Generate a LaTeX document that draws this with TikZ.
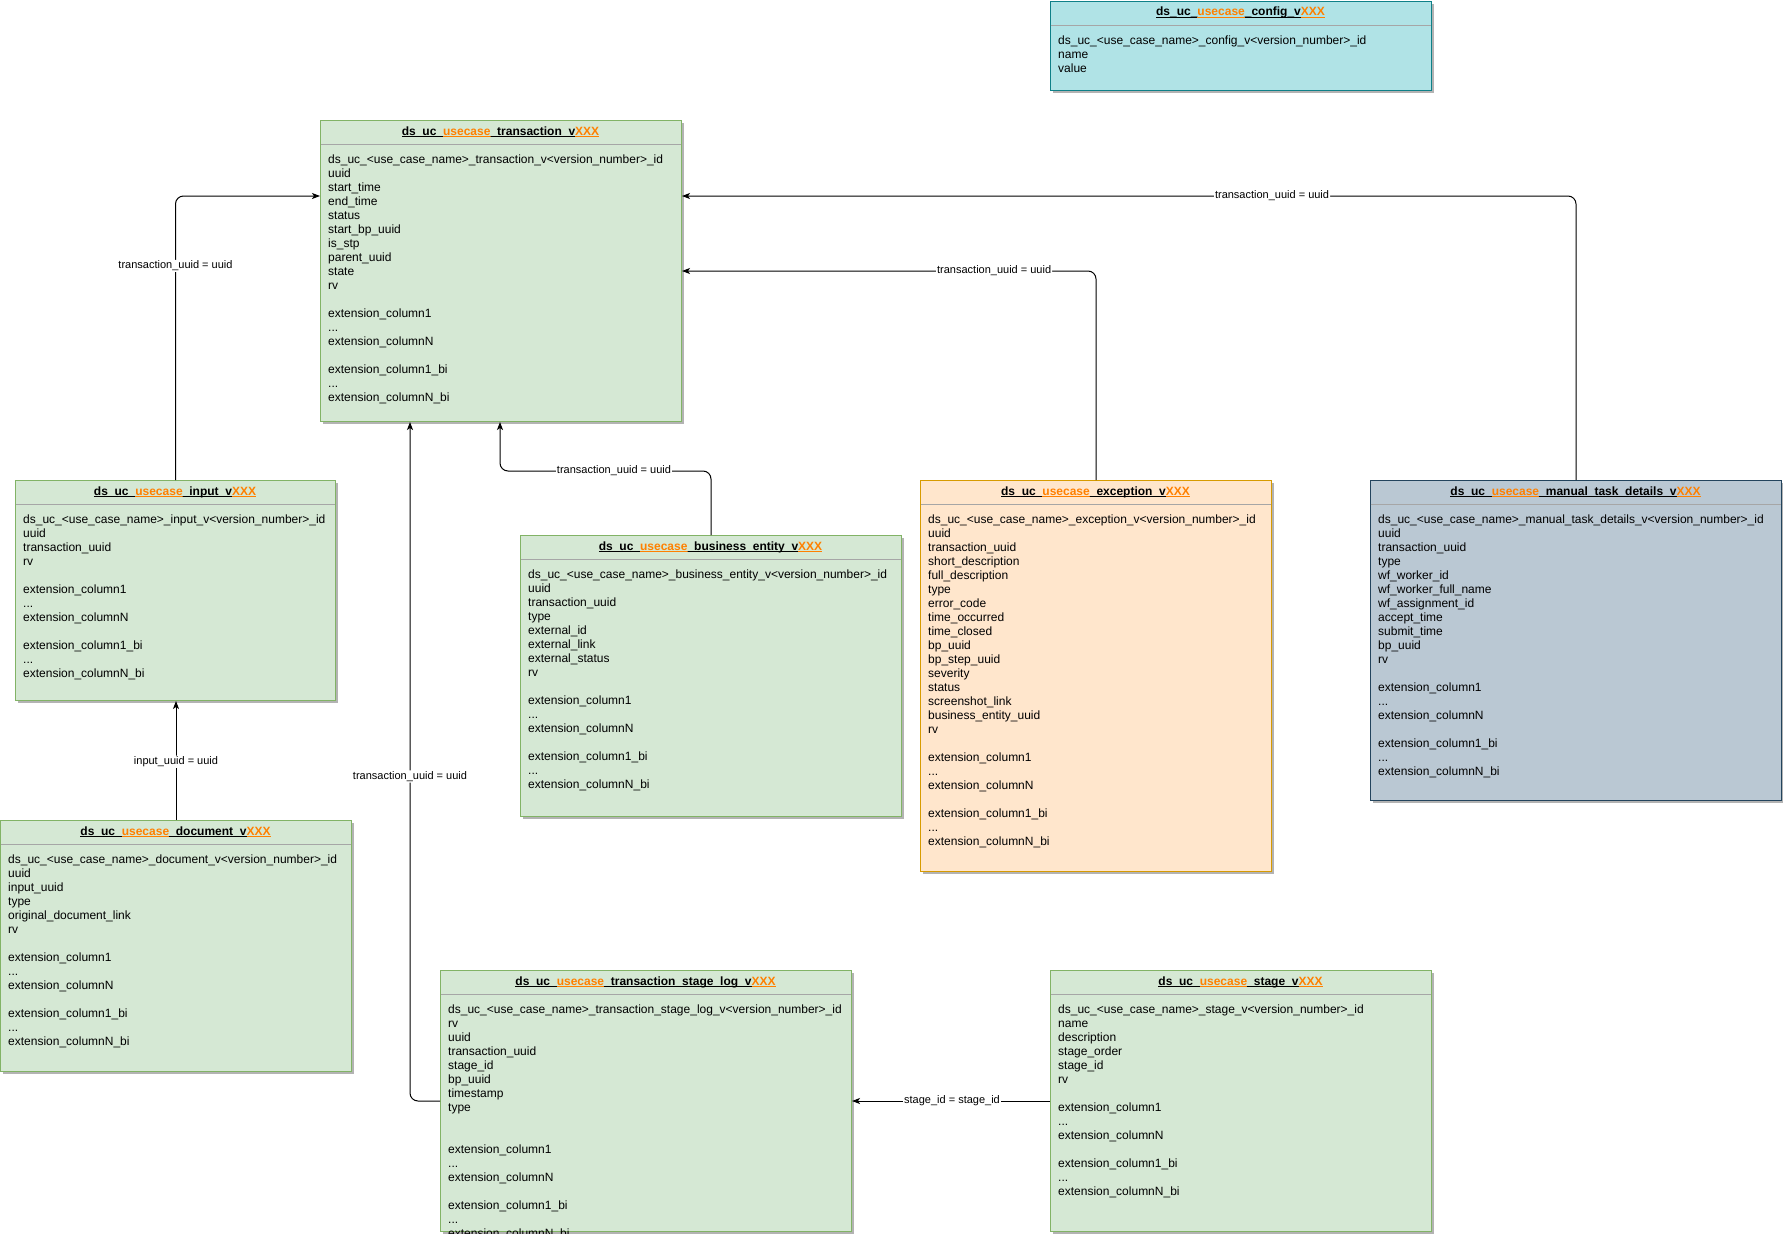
\documentclass[tikz,border=0pt]{standalone}
\usepackage{fontspec}
\setmainfont{Liberation Sans}
\usetikzlibrary{arrows.meta,calc}
\definecolor{gfill}{HTML}{D5E8D4}
\definecolor{gdraw}{HTML}{82B366}
\definecolor{cfill}{HTML}{B0E3E6}
\definecolor{cdraw}{HTML}{0E8088}
\definecolor{ofill}{HTML}{FFE6CC}
\definecolor{odraw}{HTML}{D79B00}
\definecolor{bfill}{HTML}{BAC8D3}
\definecolor{bdraw}{HTML}{23445D}
\definecolor{orangec}{HTML}{FF8000}
\definecolor{shadowc}{HTML}{B3B3B3}
\definecolor{sepc}{HTML}{A6A6A6}
\newcommand\ulseg[1]{\setbox0\hbox{#1}\rlap{\rule[-2pt]{\wd0}{0.9pt}}\box0}
\newcommand\ttlx[1]{\ulseg{ds\_uc\_}\textcolor{orangec}{\ulseg{usecase}}\ulseg{\_#1\_v}\textcolor{orangec}{\ulseg{XXX}}}
\newcommand\idrow[1]{\rule{0pt}{10pt}ds\_uc\_<use\_case\_name>\_#1\_v<version\_number>\_id}
\newcommand\extblock{extension\_column1\\...\\extension\_columnN\\[14pt]extension\_column1\_bi\\...\\extension\_columnN\_bi}
\tikzset{
  erb/.style={rectangle,line width=1pt,inner sep=0pt,anchor=north west},
  greenbox/.style={erb,fill=gfill,draw=gdraw},
  cyanbox/.style={erb,fill=cfill,draw=cdraw},
  orangebox/.style={erb,fill=ofill,draw=odraw},
  bluebox/.style={erb,fill=bfill,draw=bdraw},
  ttl/.style={anchor=base,inner sep=0pt,font=\fontsize{12}{14}\selectfont\bfseries},
  rows/.style={anchor=north west,inner sep=0pt,align=left,font=\fontsize{12}{14}\selectfont},
  sepline/.style={draw=sepc,line width=1pt},
  conn/.style={draw=black,line width=1pt,rounded corners=8pt,-{Stealth[length=8pt,width=6pt,inset=2pt]}},
  lbl/.style={fill=white,inner sep=1pt,font=\fontsize{11}{13}\selectfont}
}
\newcommand\erbox[8]{%
  \fill[shadowc] (#2+3,#3+3) rectangle (#4+3,#5+3);
  \node[#6,minimum width={#4-#2},minimum height={#5-#3}] (#1) at (#2,#3) {};
  \draw[sepline] (#2+0.5,#3+24) -- (#4-0.5,#3+24);
  \node[ttl] (#1-t) at ({(#2+#4)/2},#3+15) {#7};
  \node[rows] (#1-r) at (#2+8,#3+33.3) {#8};
}
\begin{document}
\begin{tikzpicture}[x=1pt,y=-1pt]
\useasboundingbox (0,0) rectangle (1783,1234);

\erbox{cfg}{1050}{1}{1431}{90}{cyanbox}{\ttlx{config}}{\idrow{config}\\name\\value}

\erbox{tx}{320}{120}{681}{421}{greenbox}{\ttlx{transaction}}{\idrow{transaction}\\uuid\\start\_time\\end\_time\\status\\start\_bp\_uuid\\is\_stp\\parent\_uuid\\state\\rv\\[14pt]\extblock}

\erbox{inp}{15}{480}{335}{700}{greenbox}{\ttlx{input}}{\idrow{input}\\uuid\\transaction\_uuid\\rv\\[14pt]\extblock}

\erbox{doc}{0}{820}{351}{1071}{greenbox}{\ttlx{document}}{\idrow{document}\\uuid\\input\_uuid\\type\\original\_document\_link\\rv\\[14pt]\extblock}

\erbox{be}{520}{535}{901}{816}{greenbox}{\ttlx{business\_entity}}{\idrow{business\_entity}\\uuid\\transaction\_uuid\\type\\external\_id\\external\_link\\external\_status\\rv\\[14pt]\extblock}

\erbox{exc}{920}{480}{1271}{871}{orangebox}{\ttlx{exception}}{\idrow{exception}\\uuid\\transaction\_uuid\\short\_description\\full\_description\\type\\error\_code\\time\_occurred\\time\_closed\\bp\_uuid\\bp\_step\_uuid\\severity\\status\\screenshot\_link\\business\_entity\_uuid\\rv\\[14pt]\extblock}

\erbox{mt}{1370}{480}{1781}{800}{bluebox}{\ttlx{manual\_task\_details}}{\idrow{manual\_task\_details}\\uuid\\transaction\_uuid\\type\\wf\_worker\_id\\wf\_worker\_full\_name\\wf\_assignment\_id\\accept\_time\\submit\_time\\bp\_uuid\\rv\\[14pt]\extblock}

\erbox{sl}{440}{970}{851}{1231}{greenbox}{\ttlx{transaction\_stage\_log}}{\idrow{transaction\_stage\_log}\\rv\\uuid\\transaction\_uuid\\stage\_id\\bp\_uuid\\timestamp\\type\\[28pt]\extblock}

\erbox{st}{1050}{970}{1431}{1231}{greenbox}{\ttlx{stage}}{\idrow{stage}\\name\\description\\stage\_order\\stage\_id\\rv\\[14pt]\extblock}

% connectors
\coordinate (txin1) at ($(tx.north west)+(0,76)$);
\coordinate (txin2) at ($(tx.north east)+(0,76)$);
\coordinate (txin3) at ($(tx.north east)+(0,151)$);
\coordinate (txb1) at ($(tx.south west)+(90,0)$);
\coordinate (txb2) at ($(tx.south west)+(180,0)$);

\draw[conn] (inp.north) |- (txin1) node[lbl,pos=0.377] (l1) {transaction\_uuid = uuid};
\draw[conn] (doc.north) -- (doc.north |- inp.south) node[lbl,pos=0.49] (l2) {input\_uuid = uuid};
\draw[conn] (sl.west) -| (txb1) node[lbl,pos=0.739] (l3) {transaction\_uuid = uuid};
\draw[conn] (be.north) -- ($(be.north)+(0,-64)$) -| (txb2);
\node[lbl] (l4) at (614,471) {transaction\_uuid = uuid};
\draw[conn] (exc.north) |- (txin3) node[lbl,pos=0.623] (l5) {transaction\_uuid = uuid};
\draw[conn] (mt.north) |- (txin2) node[lbl,pos=0.67] (l6) {transaction\_uuid = uuid};
\draw[conn] (st.west) -- (sl.east) node[lbl,pos=0.495] (l7) {stage\_id = stage\_id};
\end{tikzpicture}
\end{document}
